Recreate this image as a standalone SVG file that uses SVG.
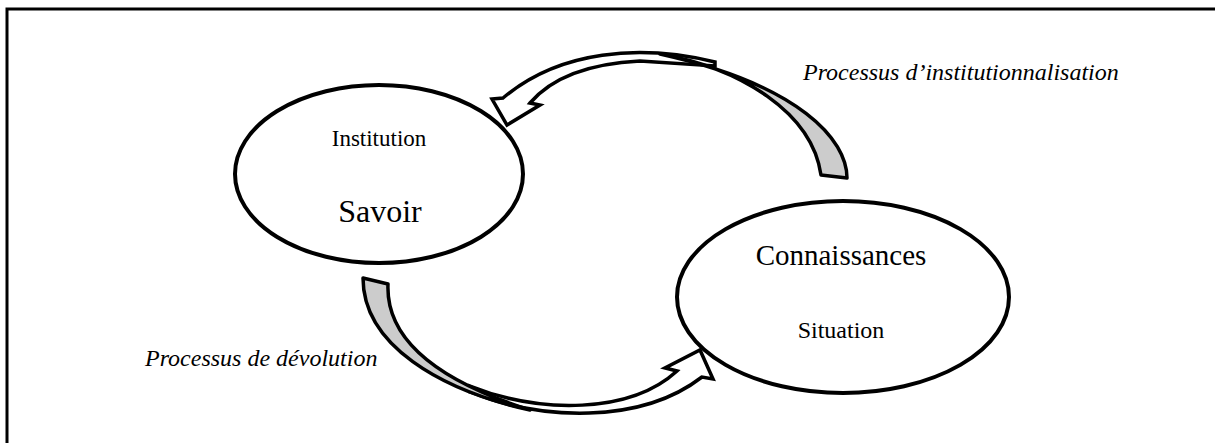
<svg xmlns="http://www.w3.org/2000/svg" width="1215" height="443" viewBox="0 0 1215 443">
  <style>
    .frame { fill: none; stroke: #000000; stroke-width: 3; }
    .node { fill: #ffffff; stroke: #000000; stroke-width: 4; }
    .front { fill: #ffffff; stroke: #000000; stroke-width: 3.5; stroke-linejoin: miter; }
    .back { fill: #cccccc; stroke: #000000; stroke-width: 3.5; stroke-linejoin: round; }
    .lbl { font-family: "Liberation Serif", "Times New Roman", serif; fill: #000000; text-anchor: middle; }
    .proc { font-family: "Liberation Serif", "Times New Roman", serif; font-style: italic; font-size: 24px; fill: #000000; }
  </style>

  <!-- outer frame: only the top and left edges fall inside the page -->
  <path class="frame" d="M 7,443 L 7,9 L 1215,9"/>

  <!-- curved block arrows -->
  <g id="connectors">
    <!-- institutionnalisation: from Connaissances back up and over to Savoir -->
    <g id="arrow-institutionnalisation">
      <path class="front" d="M 715,62 C 640,44 560,50 503,98 L 492,99 L 507,125 L 540,105 L 530,103 C 548,82 580,64 640,61 L 715,66 Z"/>
      <path class="back" d="M 821,175 L 847,178 C 847,140 800,85 660,54 C 740,68 812,112 821,175 Z"/>
    </g>
    <!-- dévolution: from Savoir down and round to Connaissances -->
    <g id="arrow-devolution">
      <path class="front" d="M 470,392 C 540,420 640,425 702,377 L 713,379 L 700,350 L 665,368 L 677,371 C 630,414 540,414 470,386 Z"/>
      <path class="back" d="M 363,278 L 388,284 C 386,330 420,375 530,410 C 440,390 363,345 363,278 Z"/>
    </g>
  </g>

  <!-- Savoir / Institution -->
  <g id="node-savoir">
    <ellipse class="node" cx="379" cy="174" rx="144" ry="89"/>
    <text class="lbl" x="379" y="146" font-size="23">Institution</text>
    <text class="lbl" x="380" y="222" font-size="32">Savoir</text>
  </g>

  <!-- Connaissances / Situation -->
  <g id="node-connaissances">
    <ellipse class="node" cx="843" cy="297" rx="166" ry="96"/>
    <text class="lbl" x="841" y="265" font-size="29">Connaissances</text>
    <text class="lbl" x="841" y="338" font-size="24">Situation</text>
  </g>

  <!-- process labels -->
  <text class="proc" x="803" y="80">Processus d’institutionnalisation</text>
  <text class="proc" x="145" y="366">Processus de dévolution</text>
</svg>
